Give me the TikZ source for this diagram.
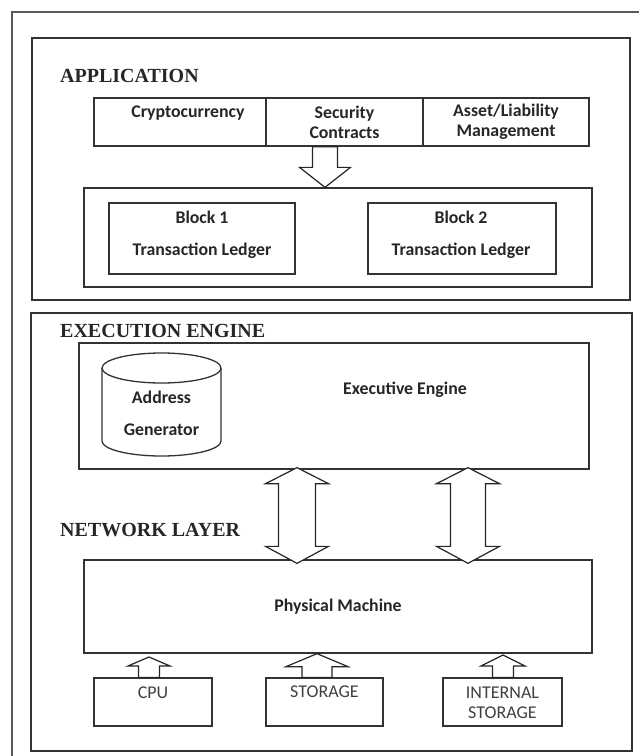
\documentclass[tikz,border=0pt]{standalone}
\usepackage{fontspec}
\setmainfont{Carlito}
\newfontfamily\headfont{Liberation Serif}
\usetikzlibrary{calc}
\newcommand\blkdown[4]{% from, to, shaft half, head half ; head length 20
  \draw[barrow] let \p1=(#1), \p2=(#2) in
   (\x1-#3,\y1) -- (\x1-#3,\y2+20pt) -- (\x1-#4,\y2+20pt) -- (\x2,\y2)
   -- (\x1+#4,\y2+20pt) -- (\x1+#3,\y2+20pt) -- (\x1+#3,\y1) -- cycle;}
\newcommand\blkup[5]{% from, to, shaft half, head half, head length
  \draw[barrow] let \p1=(#1), \p2=(#2) in
   (\x1-#3,\y1) -- (\x1-#3,\y2-#5) -- (\x1-#4,\y2-#5) -- (\x2,\y2)
   -- (\x1+#4,\y2-#5) -- (\x1+#3,\y2-#5) -- (\x1+#3,\y1) -- cycle;}
\newcommand\blkboth[4]{% top tip, bottom tip, shaft half, head half ; head length 16/17
  \draw[barrow] let \p1=(#1), \p2=(#2) in
   (\x1,\y1) -- (\x1+#4,\y1-16pt) -- (\x1+#3,\y1-16pt) -- (\x1+#3,\y2+17pt)
   -- (\x1+#4,\y2+17pt) -- (\x2,\y2) -- (\x1-#4,\y2+17pt) -- (\x1-#3,\y2+17pt)
   -- (\x1-#3,\y1-16pt) -- (\x1-#4,\y1-16pt) -- cycle;}
\begin{document}
\begin{tikzpicture}[x=1pt,y=-1pt,
 box/.style={draw=black!80, line width=1.3pt, inner sep=0pt, anchor=center},
 lbl/.style={font=\fontsize{17.8}{20}\selectfont\bfseries, inner sep=0pt, align=center, text=black!85},
 small/.style={font=\fontsize{18}{20}\selectfont, inner sep=0pt, align=center, text=black!75},
 headlbl/.style={font=\headfont\fontsize{20}{20}\selectfont\bfseries, inner sep=0pt, anchor=west, text=black!85},
 barrow/.style={draw=black!85, line width=1.2pt, fill=white, line join=miter}]
\useasboundingbox (0,0) rectangle (639,756);
% outer frame
\coordinate (ofa) at (12,760);
\coordinate (ofb) at (12,12);
\coordinate (ofc) at (642,12);
\draw[draw=black!65, line width=1.3pt] (ofa) -- (ofb) -- (ofc);

% ===== Application =====
\node[box, minimum width=598pt, minimum height=262pt] (app) at (331,169) {};
\node[headlbl] (apptitle) at (60,76) {APPLICATION};
\node[box, minimum width=172pt, minimum height=48pt] (crypto) at (180,122) {};
\node[lbl] (cryptot) at (188,113) {Cryptocurrency};
\node[box, minimum width=157pt, minimum height=48pt, lbl] (sec) at (344.5,122) {Security\\Contracts};
\node[box, minimum width=166pt, minimum height=48pt, lbl] (asset) at (506,122) {Asset/Liability\\Management};
\node[box, minimum width=508pt, minimum height=99pt] (ledger) at (338,237.5) {};
\node[box, minimum width=186pt, minimum height=71pt] (b1) at (202,238.5) {};
\node[lbl] (b1t) at (202,235) {Block 1\\[12pt]Transaction Ledger};
\node[box, minimum width=188pt, minimum height=71pt] (b2) at (462,238.5) {};
\node[lbl] (b2t) at (461,235) {Block 2\\[12pt]Transaction Ledger};
\coordinate (da1) at (sec.south -| 325,0);
\coordinate (da2) at (ledger.north -| 325,0);
\blkdown{da1}{da2}{12.5pt}{25.5pt}

% ===== Execution / Network =====
\node[box, minimum width=601pt, minimum height=438pt] (exec) at (331.5,532) {};
\node[headlbl] (exectitle) at (60,331) {EXECUTION ENGINE};
\node[box, minimum width=510pt, minimum height=126pt] (ee) at (334,406) {};
\node[lbl] (eet) at (405,390) {Executive Engine};
% cylinder
\node[minimum width=119pt, minimum height=103pt, inner sep=0pt] (cyl) at (161.5,404.5) {};
\draw[box] (102,368) -- (102,441) arc[start angle=180, end angle=360, x radius=59.5pt, y radius=15pt] -- (221,368);
\draw[box] (161.5,368) ellipse [x radius=59.5pt, y radius=15pt];
\node[lbl] (cylt) at (161.5,413) {Address\\[12pt]Generator};

\node[headlbl] (nettitle) at (60,530) {NETWORK LAYER};
\node[box, minimum width=508pt, minimum height=93pt, lbl] (pm) at (338,606.5) {Physical Machine};

\coordinate (d1a) at (ee.south -| 297,0);
\coordinate (d1b) at (pm.north -| 297,0);
\coordinate (d2a) at (ee.south -| 468,0);
\coordinate (d2b) at (pm.north -| 468,0);
\blkboth{$(d1a)+(0,-2)$}{$(d1b)+(0,4)$}{18.5pt}{31.5pt}
\blkboth{$(d2a)+(0,-2)$}{$(d2b)+(0,4)$}{17.5pt}{31.5pt}

\node[box, minimum width=118pt, minimum height=48pt] (cpu) at (153,702) {};
\node[small] (cput) at (153,693) {CPU};
\node[box, minimum width=117pt, minimum height=48pt] (sto) at (324.5,702) {};
\node[small] (stot) at (324.5,692) {STORAGE};
\node[box, minimum width=119pt, minimum height=48pt] (ist) at (502.5,702) {};
\node[small] (istt) at (502.5,703) {INTERNAL\\STORAGE};

\coordinate (u1a) at (cpu.north -| 149,0);
\coordinate (u1b) at (149,657);
\coordinate (u2a) at (sto.north -| 317,0);
\coordinate (u2b) at (pm.south -| 317,0);
\coordinate (u3a) at (ist.north -| 503,0);
\coordinate (u3b) at (503,655);
\blkup{u1a}{u1b}{10.5pt}{21pt}{9pt}
\blkup{u2a}{u2b}{15pt}{31pt}{13pt}
\blkup{u3a}{u3b}{10.5pt}{22pt}{11pt}
\end{tikzpicture}
\end{document}
